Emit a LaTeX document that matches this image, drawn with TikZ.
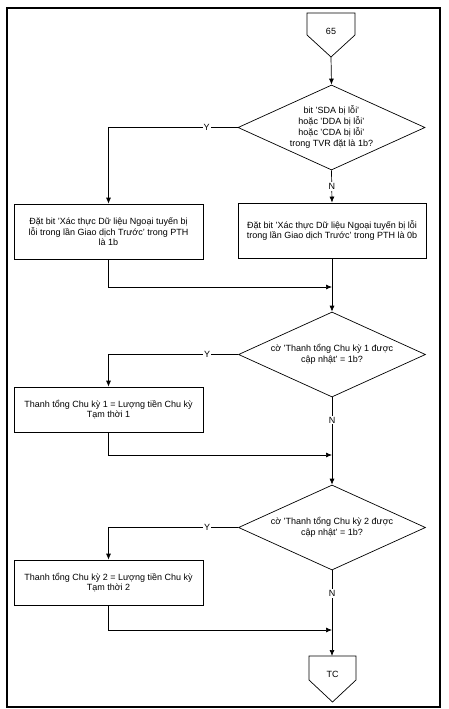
\documentclass[tikz,border=0pt]{standalone}
\usepackage{fontspec}
\setmainfont{Liberation Sans}
\usetikzlibrary{shapes.geometric,arrows.meta}

\begin{document}
\begin{tikzpicture}[x=1pt,y=-1pt,line width=.7pt,
    every node/.style={font=\fontsize{9}{9.5}\selectfont},
    box/.style={draw,rectangle,minimum width=189pt,align=center,inner sep=2pt},
    test/.style={draw,diamond,aspect=2.2,minimum width=187pt,minimum height=85pt,inner sep=0pt,align=center,font=\fontsize{9}{11}\selectfont},
    lbl/.style={fill=white,inner sep=1pt},
    arr/.style={-{Latex[length=6pt,width=5pt]}}]
      \useasboundingbox (0,0) rectangle (449,709);
      \draw[line width=1.2pt] (7,8) rectangle (440,707);
      % connectors
      \draw (307,13) -- (355,13) -- (355,35) -- (331,57) -- (307,35) -- cycle;
      \node (c65) at (331,31) {65};
      \coordinate (c65tip) at (331,57);
      \draw (309,656) -- (356,656) -- (356,680) -- (332.5,702) -- (309,680) -- cycle;
      \node (tc) at (332.5,674) {TC};
      \coordinate (tctop) at (332,656);
      % tests
      \node[test] (d1) at (331.5,127.5) {bit 'SDA bị lỗi'\\hoặc 'DDA bị lỗi'\\hoặc 'CDA bị lỗi'\\trong TVR đặt là 1b?};
      \node[test] (d2) at (332,354.5) {cờ 'Thanh tổng Chu kỳ 1 được\\cập nhật' = 1b?};
      \node[test] (d3) at (332,527.5) {cờ 'Thanh tổng Chu kỳ 2 được\\cập nhật' = 1b?};
      % actions
      \node[box,minimum height=55pt] (b1) at (108.5,231.5) {Đặt bit 'Xác thực Dữ liệu Ngoại tuyến bị\\lỗi trong lần Giao dịch Trước' trong PTH\\là 1b};
      \node[box,minimum width=188pt,minimum height=55pt] (b2) at (332,230.5) {Đặt bit 'Xác thực Dữ liệu Ngoại tuyến bị lỗi\\trong lần Giao dịch Trước' trong PTH là 0b};
      \node[box,minimum height=45pt] (b3) at (108.5,409.5) {Thanh tổng Chu kỳ 1 = Lượng tiền Chu kỳ\\Tạm thời 1};
      \node[box,minimum height=45pt] (b4) at (108.5,582.5) {Thanh tổng Chu kỳ 2 = Lượng tiền Chu kỳ\\Tạm thời 2};
      % merge points
      \coordinate (m1) at (332,287);
      \coordinate (m2) at (332,455);
      \coordinate (m3) at (332,630);
      % flow
      \draw[arr] (c65tip) -- (d1.north);
      \draw[arr] (d1.west) -- node[lbl,pos=.24]{Y} (d1.west -| b1.north) -- (b1.north);
      \draw[arr] (d1.south) -- node[lbl]{N} (b2.north);
      \draw[arr] (b1.south) |- (m1);
      \draw[arr] (b2.south) -- (d2.north);
      \draw[arr] (d2.west) -- node[lbl,pos=.24]{Y} (d2.west -| b3.north) -- (b3.north);
      \draw[arr] (d2.south) -- node[lbl,pos=.26]{N} (d3.north);
      \draw[arr] (b3.south) |- (m2);
      \draw[arr] (d3.west) -- node[lbl,pos=.24]{Y} (d3.west -| b4.north) -- (b4.north);
      \draw[arr] (d3.south) -- node[lbl,pos=.27]{N} (tctop);
      \draw[arr] (b4.south) |- (m3);
    \end{tikzpicture}
\end{document}
